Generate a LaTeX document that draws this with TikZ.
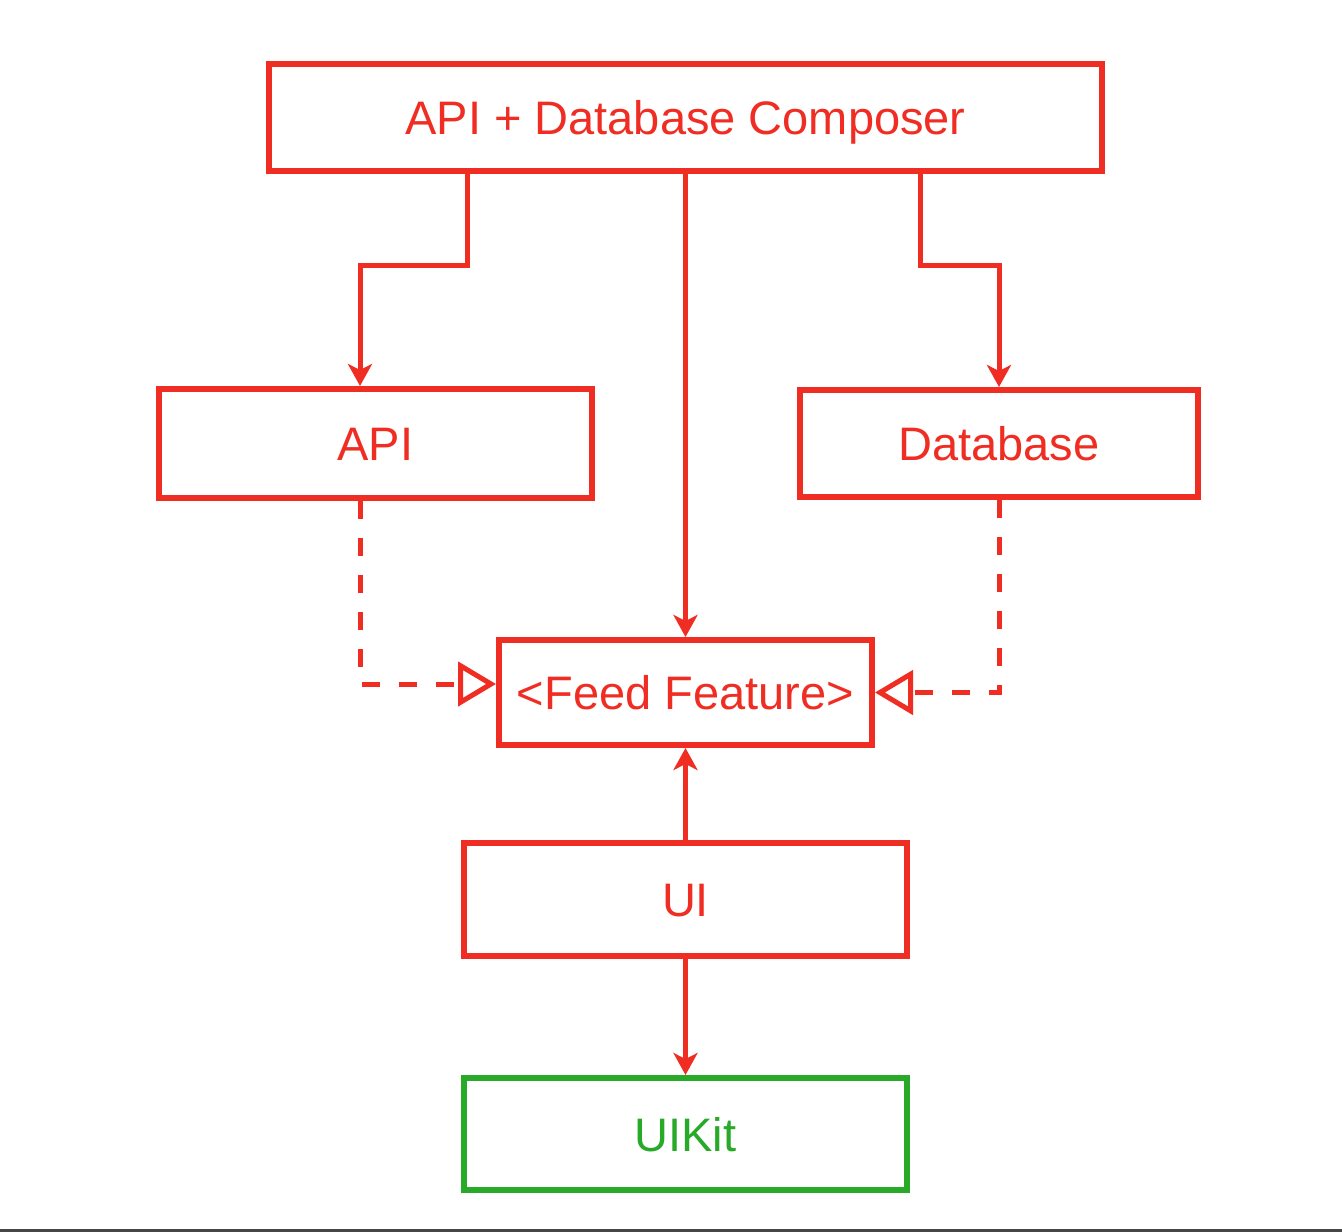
\documentclass[tikz,border=0pt]{standalone}
\usepackage{fontspec}
\setmainfont{Liberation Sans}
\usetikzlibrary{arrows.meta}
\definecolor{dred}{RGB}{240,45,35}
\definecolor{dgreen}{RGB}{40,170,40}
\definecolor{barcol}{RGB}{70,70,70}
\tikzset{
  box/.style={draw=dred, line width=6pt, text=dred, rectangle, inner sep=0pt,
    font=\fontsize{47}{56}\selectfont, text height=34pt, text depth=0pt},
  gbox/.style={box, draw=dgreen, text=dgreen},
  conn/.style={draw=dred, line width=5pt, -{Stealth[length=22pt,width=24pt,inset=6pt]}},
  dconn/.style={draw=dred, line width=5pt, dash pattern=on 18pt off 19pt,
    -{Triangle[open,length=38pt,width=44pt]}}
}
\begin{document}
\begin{tikzpicture}[x=1pt,y=-1pt]
\useasboundingbox (0,0) rectangle (1342,1232);
\fill[white] (0,0) rectangle (1342,1232);
\fill[barcol] (0,1229) rectangle (1342,1232);

\node[box, minimum width=833pt, minimum height=107pt] (comp) at (685.5,117.5) {API + Database Composer};
\node[box, minimum width=433pt, minimum height=109pt] (api) at (375.5,443.5) {API};
\node[box, minimum width=398pt, minimum height=107pt] (db) at (999,443.5) {Database};
\node[box, minimum width=373pt, minimum height=105pt] (feed) at (685.5,692.5) {<Feed Feature>};
\node[box, minimum width=443pt, minimum height=113pt] (ui) at (685.5,899.5) {UI};
\node[gbox, minimum width=443pt, minimum height=112pt] (uikit) at (685.5,1134) {UIKit};

\coordinate (k1) at (467,265);
\coordinate (k2) at (360,265);
\coordinate (k3) at (920,265);
\coordinate (k5) at (360,684);

\draw[conn] (comp.south -| k1) -- (k1) -| (api.north -| k2);
\draw[conn] (comp.south) -- (feed.north);
\draw[conn] (comp.south -| k3) -- (k3) -| (db.north);
\draw[dconn] (api.south -| k5) |- (feed.west |- k5);
\draw[dconn] (db.south) |- (feed.east);
\draw[conn] (ui.north) -- (feed.south);
\draw[conn] (ui.south) -- (uikit.north);
\end{tikzpicture}
\end{document}
